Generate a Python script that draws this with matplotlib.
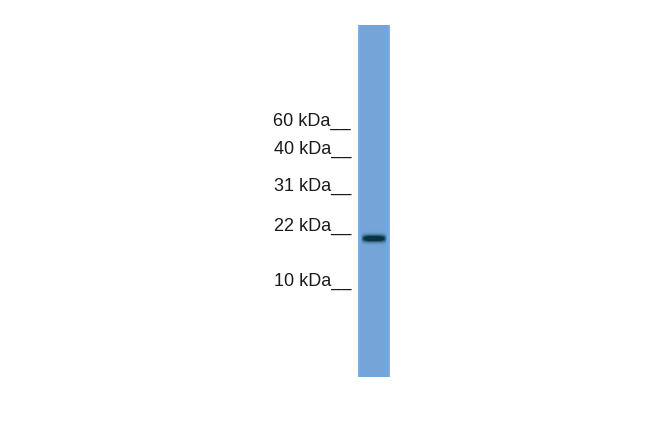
import numpy as np
import matplotlib.pyplot as plt

# marker ladder (label, baseline y in image pixels)
marker_labels = ["60 kDa", "40 kDa", "31 kDa", "22 kDa", "10 kDa"]
marker_y = [126, 154, 191, 231, 286]

# lane extent and the single band (pixels)
lane_x = [358, 390]
lane_y = [25, 377]
band_x = [361, 387]
band_y = 238.5

plt.rcParams['font.family'] = ['Liberation Sans', 'DejaVu Sans']

fig = plt.figure(figsize=(6.5, 4.33), dpi=100)
ax = fig.add_axes([0, 0, 1, 1])
ax.set_xlim(0, 650)
ax.set_ylim(433, 0)
ax.axis('off')

# lane image: light blue with the dark band blended in
h = lane_y[1] - lane_y[0]
w = lane_x[1] - lane_x[0]
yy, xx = np.mgrid[0:h, 0:w] + 0.5
yy = yy + lane_y[0]
xx = xx + lane_x[0]
base = np.array([0.46, 0.65, 0.85])
dark = np.array([0.03, 0.20, 0.26])
img = np.ones((h, w, 3)) * base
# slightly lighter edges
edge = np.exp(-((xx - lane_x[0]) / 1.5) ** 2) + np.exp(-((lane_x[1] - xx) / 1.5) ** 2)
img = img + 0.05 * edge[..., None]
cx = (band_x[0] + band_x[1]) / 2
hw = (band_x[1] - band_x[0]) / 2
bx = np.clip(1 - ((xx - cx) / hw) ** 4, 0, 1)
by = np.exp(-((yy - band_y) / 3.4) ** 2)
a = np.clip(bx * by * 1.4, 0, 1)[..., None]
img = img * (1 - a) + dark * a
ax.imshow(np.clip(img, 0, 1), extent=[lane_x[0], lane_x[1], lane_y[1], lane_y[0]],
          interpolation='bilinear', zorder=1)

for lab, y in zip(marker_labels, marker_y):
    ax.text(351, y, lab + "__", ha='right', va='baseline', fontsize=13, color='#1a1a1a')

fig.savefig("out.png", dpi=100)
